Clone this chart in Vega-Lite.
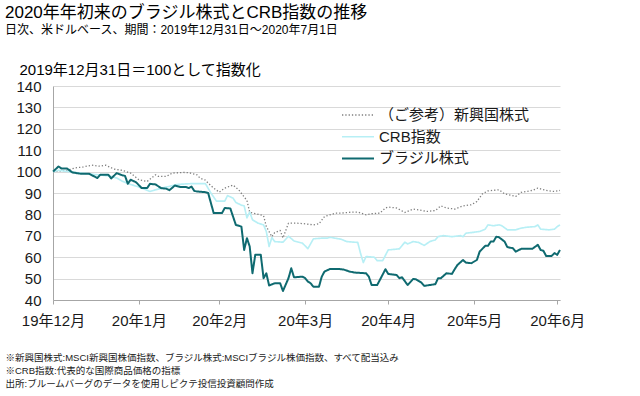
{
"$schema":"https://vega.github.io/schema/vega-lite/v6.json",
"autosize":{"type":"none"},
"width":507,"height":214,
"padding":{"left":53,"top":86,"right":80,"bottom":96},
"background":"#ffffff",
"config":{"view":{"stroke":null},"font":"Liberation Sans, Noto Sans CJK JP"},
"title":{"text":"2020年年初来のブラジル株式とCRB指数の推移","subtitle":"日次、米ドルベース、期間：2019年12月31日～2020年7月1日","anchor":"start","frame":"group","dx":-48,"offset":25,"fontSize":17,"fontWeight":"normal","color":"#000000","subtitleFontSize":12,"subtitleColor":"#000000","subtitlePadding":3,"font":"Liberation Sans, Noto Sans CJK JP","subtitleFont":"Liberation Sans, Noto Sans CJK JP"},
"data":{"values":[
{"date":"2019-12-31","series":"（ご参考）新興国株式","value":100},
{"date":"2020-01-05","series":"（ご参考）新興国株式","value":100.6},
{"date":"2020-01-08","series":"（ご参考）新興国株式","value":101.7},
{"date":"2020-01-11","series":"（ご参考）新興国株式","value":102.2},
{"date":"2020-01-14","series":"（ご参考）新興国株式","value":103},
{"date":"2020-01-17","series":"（ご参考）新興国株式","value":102.5},
{"date":"2020-01-19","series":"（ご参考）新興国株式","value":103},
{"date":"2020-01-22","series":"（ご参考）新興国株式","value":101.2},
{"date":"2020-01-25","series":"（ご参考）新興国株式","value":100.6},
{"date":"2020-01-28","series":"（ご参考）新興国株式","value":99.3},
{"date":"2020-01-31","series":"（ご参考）新興国株式","value":96.2},
{"date":"2020-02-03","series":"（ご参考）新興国株式","value":95.4},
{"date":"2020-02-06","series":"（ご参考）新興国株式","value":98.5},
{"date":"2020-02-07","series":"（ご参考）新興国株式","value":97.8},
{"date":"2020-02-10","series":"（ご参考）新興国株式","value":97.8},
{"date":"2020-02-12","series":"（ご参考）新興国株式","value":99.3},
{"date":"2020-02-16","series":"（ご参考）新興国株式","value":99.6},
{"date":"2020-02-18","series":"（ご参考）新興国株式","value":99.5},
{"date":"2020-02-21","series":"（ご参考）新興国株式","value":98.5},
{"date":"2020-02-22","series":"（ご参考）新興国株式","value":97},
{"date":"2020-02-24","series":"（ご参考）新興国株式","value":96},
{"date":"2020-02-25","series":"（ご参考）新興国株式","value":94.6},
{"date":"2020-02-27","series":"（ご参考）新興国株式","value":92.3},
{"date":"2020-02-29","series":"（ご参考）新興国株式","value":90.4},
{"date":"2020-03-02","series":"（ご参考）新興国株式","value":92.3},
{"date":"2020-03-05","series":"（ご参考）新興国株式","value":93.7},
{"date":"2020-03-07","series":"（ご参考）新興国株式","value":91.5},
{"date":"2020-03-10","series":"（ご参考）新興国株式","value":86.5},
{"date":"2020-03-11","series":"（ご参考）新興国株式","value":81},
{"date":"2020-03-13","series":"（ご参考）新興国株式","value":80.4},
{"date":"2020-03-16","series":"（ご参考）新興国株式","value":79.4},
{"date":"2020-03-17","series":"（ご参考）新興国株式","value":74.3},
{"date":"2020-03-19","series":"（ご参考）新興国株式","value":69.6},
{"date":"2020-03-20","series":"（ご参考）新興国株式","value":71.5},
{"date":"2020-03-22","series":"（ご参考）新興国株式","value":72.5},
{"date":"2020-03-23","series":"（ご参考）新興国株式","value":69},
{"date":"2020-03-25","series":"（ご参考）新興国株式","value":75.9},
{"date":"2020-03-28","series":"（ご参考）新興国株式","value":75.9},
{"date":"2020-03-31","series":"（ご参考）新興国株式","value":75.6},
{"date":"2020-04-03","series":"（ご参考）新興国株式","value":75.1},
{"date":"2020-04-05","series":"（ご参考）新興国株式","value":75.6},
{"date":"2020-04-07","series":"（ご参考）新興国株式","value":79},
{"date":"2020-04-11","series":"（ご参考）新興国株式","value":80.6},
{"date":"2020-04-13","series":"（ご参考）新興国株式","value":80.6},
{"date":"2020-04-17","series":"（ご参考）新興国株式","value":81.1},
{"date":"2020-04-19","series":"（ご参考）新興国株式","value":81.1},
{"date":"2020-04-22","series":"（ご参考）新興国株式","value":79.8},
{"date":"2020-04-24","series":"（ご参考）新興国株式","value":80.3},
{"date":"2020-04-27","series":"（ご参考）新興国株式","value":80.6},
{"date":"2020-04-29","series":"（ご参考）新興国株式","value":83},
{"date":"2020-04-30","series":"（ご参考）新興国株式","value":83.4},
{"date":"2020-05-03","series":"（ご参考）新興国株式","value":83},
{"date":"2020-05-06","series":"（ご参考）新興国株式","value":80.9},
{"date":"2020-05-09","series":"（ご参考）新興国株式","value":82.5},
{"date":"2020-05-11","series":"（ご参考）新興国株式","value":82.1},
{"date":"2020-05-14","series":"（ご参考）新興国株式","value":81.4},
{"date":"2020-05-17","series":"（ご参考）新興国株式","value":81.8},
{"date":"2020-05-19","series":"（ご参考）新興国株式","value":84},
{"date":"2020-05-21","series":"（ご参考）新興国株式","value":83},
{"date":"2020-05-24","series":"（ご参考）新興国株式","value":82.5},
{"date":"2020-05-27","series":"（ご参考）新興国株式","value":84},
{"date":"2020-05-30","series":"（ご参考）新興国株式","value":84.5},
{"date":"2020-06-01","series":"（ご参考）新興国株式","value":86},
{"date":"2020-06-03","series":"（ご参考）新興国株式","value":89.6},
{"date":"2020-06-05","series":"（ご参考）新興国株式","value":91},
{"date":"2020-06-09","series":"（ご参考）新興国株式","value":91.5},
{"date":"2020-06-11","series":"（ご参考）新興国株式","value":89.6},
{"date":"2020-06-15","series":"（ご参考）新興国株式","value":88.4},
{"date":"2020-06-17","series":"（ご参考）新興国株式","value":90.3},
{"date":"2020-06-21","series":"（ご参考）新興国株式","value":91.2},
{"date":"2020-06-23","series":"（ご参考）新興国株式","value":92.3},
{"date":"2020-06-26","series":"（ご参考）新興国株式","value":91.2},
{"date":"2020-06-29","series":"（ご参考）新興国株式","value":90.7},
{"date":"2020-07-01","series":"（ご参考）新興国株式","value":91.2},
{"date":"2019-12-31","series":"CRB指数","value":100},
{"date":"2020-01-02","series":"CRB指数","value":100.6},
{"date":"2020-01-08","series":"CRB指数","value":99.6},
{"date":"2020-01-14","series":"CRB指数","value":98.8},
{"date":"2020-01-20","series":"CRB指数","value":98},
{"date":"2020-01-23","series":"CRB指数","value":97},
{"date":"2020-01-25","series":"CRB指数","value":95.5},
{"date":"2020-01-28","series":"CRB指数","value":94},
{"date":"2020-01-31","series":"CRB指数","value":92.8},
{"date":"2020-02-04","series":"CRB指数","value":90.7},
{"date":"2020-02-06","series":"CRB指数","value":91.5},
{"date":"2020-02-10","series":"CRB指数","value":92.8},
{"date":"2020-02-14","series":"CRB指数","value":94},
{"date":"2020-02-19","series":"CRB指数","value":94.4},
{"date":"2020-02-24","series":"CRB指数","value":94.4},
{"date":"2020-02-26","series":"CRB指数","value":90},
{"date":"2020-02-28","series":"CRB指数","value":86.2},
{"date":"2020-03-02","series":"CRB指数","value":86.2},
{"date":"2020-03-03","series":"CRB指数","value":88.8},
{"date":"2020-03-05","series":"CRB指数","value":87.6},
{"date":"2020-03-06","series":"CRB指数","value":85.6},
{"date":"2020-03-08","series":"CRB指数","value":84.3},
{"date":"2020-03-09","series":"CRB指数","value":84},
{"date":"2020-03-10","series":"CRB指数","value":78.4},
{"date":"2020-03-11","series":"CRB指数","value":81.1},
{"date":"2020-03-12","series":"CRB指数","value":77.5},
{"date":"2020-03-14","series":"CRB指数","value":75.9},
{"date":"2020-03-16","series":"CRB指数","value":75.1},
{"date":"2020-03-17","series":"CRB指数","value":72},
{"date":"2020-03-18","series":"CRB指数","value":65},
{"date":"2020-03-19","series":"CRB指数","value":69.2},
{"date":"2020-03-20","series":"CRB指数","value":67.3},
{"date":"2020-03-23","series":"CRB指数","value":67},
{"date":"2020-03-25","series":"CRB指数","value":69.8},
{"date":"2020-03-27","series":"CRB指数","value":67.6},
{"date":"2020-03-30","series":"CRB指数","value":66.6},
{"date":"2020-04-01","series":"CRB指数","value":64},
{"date":"2020-04-03","series":"CRB指数","value":68.6},
{"date":"2020-04-06","series":"CRB指数","value":68.9},
{"date":"2020-04-08","series":"CRB指数","value":68.9},
{"date":"2020-04-09","series":"CRB指数","value":69.3},
{"date":"2020-04-13","series":"CRB指数","value":68.4},
{"date":"2020-04-15","series":"CRB指数","value":67.3},
{"date":"2020-04-19","series":"CRB指数","value":66.9},
{"date":"2020-04-20","series":"CRB指数","value":61.8},
{"date":"2020-04-21","series":"CRB指数","value":57.5},
{"date":"2020-04-22","series":"CRB指数","value":60.3},
{"date":"2020-04-25","series":"CRB指数","value":60},
{"date":"2020-04-26","series":"CRB指数","value":58.4},
{"date":"2020-04-28","series":"CRB指数","value":58.4},
{"date":"2020-04-30","series":"CRB指数","value":63.4},
{"date":"2020-05-04","series":"CRB指数","value":63.9},
{"date":"2020-05-06","series":"CRB指数","value":67},
{"date":"2020-05-07","series":"CRB指数","value":66.2},
{"date":"2020-05-09","series":"CRB指数","value":67.3},
{"date":"2020-05-11","series":"CRB指数","value":66.9},
{"date":"2020-05-13","series":"CRB指数","value":65.5},
{"date":"2020-05-15","series":"CRB指数","value":67.3},
{"date":"2020-05-17","series":"CRB指数","value":68.1},
{"date":"2020-05-18","series":"CRB指数","value":69.6},
{"date":"2020-05-20","series":"CRB指数","value":70.1},
{"date":"2020-05-23","series":"CRB指数","value":69.6},
{"date":"2020-05-26","series":"CRB指数","value":70.1},
{"date":"2020-05-27","series":"CRB指数","value":69.6},
{"date":"2020-05-28","series":"CRB指数","value":71.2},
{"date":"2020-05-30","series":"CRB指数","value":71.5},
{"date":"2020-06-02","series":"CRB指数","value":72},
{"date":"2020-06-04","series":"CRB指数","value":73.1},
{"date":"2020-06-05","series":"CRB指数","value":75.1},
{"date":"2020-06-07","series":"CRB指数","value":74.7},
{"date":"2020-06-09","series":"CRB指数","value":75.1},
{"date":"2020-06-10","series":"CRB指数","value":74.7},
{"date":"2020-06-12","series":"CRB指数","value":72.8},
{"date":"2020-06-15","series":"CRB指数","value":72.8},
{"date":"2020-06-17","series":"CRB指数","value":73.6},
{"date":"2020-06-19","series":"CRB指数","value":74},
{"date":"2020-06-22","series":"CRB指数","value":74.3},
{"date":"2020-06-23","series":"CRB指数","value":75.1},
{"date":"2020-06-24","series":"CRB指数","value":73.1},
{"date":"2020-06-27","series":"CRB指数","value":72.8},
{"date":"2020-06-29","series":"CRB指数","value":73.1},
{"date":"2020-06-30","series":"CRB指数","value":74.3},
{"date":"2020-07-01","series":"CRB指数","value":75.1},
{"date":"2019-12-31","series":"ブラジル株式","value":100},
{"date":"2020-01-02","series":"ブラジル株式","value":102.4},
{"date":"2020-01-03","series":"ブラジル株式","value":101.5},
{"date":"2020-01-05","series":"ブラジル株式","value":101.5},
{"date":"2020-01-07","series":"ブラジル株式","value":99.6},
{"date":"2020-01-10","series":"ブラジル株式","value":99},
{"date":"2020-01-13","series":"ブラジル株式","value":99},
{"date":"2020-01-16","series":"ブラジル株式","value":97},
{"date":"2020-01-17","series":"ブラジル株式","value":98.5},
{"date":"2020-01-20","series":"ブラジル株式","value":98.5},
{"date":"2020-01-21","series":"ブラジル株式","value":96.8},
{"date":"2020-01-23","series":"ブラジル株式","value":99.3},
{"date":"2020-01-25","series":"ブラジル株式","value":98.3},
{"date":"2020-01-26","series":"ブラジル株式","value":98},
{"date":"2020-01-27","series":"ブラジル株式","value":94.3},
{"date":"2020-01-28","series":"ブラジル株式","value":96.2},
{"date":"2020-01-30","series":"ブラジル株式","value":95},
{"date":"2020-02-01","series":"ブラジル株式","value":92.3},
{"date":"2020-02-03","series":"ブラジル株式","value":92.3},
{"date":"2020-02-04","series":"ブラジル株式","value":94.3},
{"date":"2020-02-06","series":"ブラジル株式","value":94},
{"date":"2020-02-08","series":"ブラジル株式","value":92.3},
{"date":"2020-02-10","series":"ブラジル株式","value":92},
{"date":"2020-02-11","series":"ブラジル株式","value":91.3},
{"date":"2020-02-13","series":"ブラジル株式","value":93.5},
{"date":"2020-02-15","series":"ブラジル株式","value":92.8},
{"date":"2020-02-17","series":"ブラジル株式","value":92.8},
{"date":"2020-02-18","series":"ブラジル株式","value":92.3},
{"date":"2020-02-19","series":"ブラジル株式","value":93},
{"date":"2020-02-20","series":"ブラジル株式","value":91},
{"date":"2020-02-21","series":"ブラジル株式","value":90.7},
{"date":"2020-02-24","series":"ブラジル株式","value":90.4},
{"date":"2020-02-25","series":"ブラジル株式","value":90},
{"date":"2020-02-27","series":"ブラジル株式","value":80.6},
{"date":"2020-03-01","series":"ブラジル株式","value":80.6},
{"date":"2020-03-02","series":"ブラジル株式","value":83},
{"date":"2020-03-04","series":"ブラジル株式","value":82.8},
{"date":"2020-03-06","series":"ブラジル株式","value":75.1},
{"date":"2020-03-08","series":"ブラジル株式","value":74.3},
{"date":"2020-03-09","series":"ブラジル株式","value":63.4},
{"date":"2020-03-10","series":"ブラジル株式","value":68.9},
{"date":"2020-03-11","series":"ブラジル株式","value":65},
{"date":"2020-03-12","series":"ブラジル株式","value":52.5},
{"date":"2020-03-13","series":"ブラジル株式","value":61.1},
{"date":"2020-03-15","series":"ブラジル株式","value":61.1},
{"date":"2020-03-16","series":"ブラジル株式","value":50.2},
{"date":"2020-03-17","series":"ブラジル株式","value":52.5},
{"date":"2020-03-18","series":"ブラジル株式","value":46.8},
{"date":"2020-03-20","series":"ブラジル株式","value":47.8},
{"date":"2020-03-22","series":"ブラジル株式","value":47.8},
{"date":"2020-03-23","series":"ブラジル株式","value":44.2},
{"date":"2020-03-25","series":"ブラジル株式","value":50.2},
{"date":"2020-03-26","series":"ブラジル株式","value":54.8},
{"date":"2020-03-27","series":"ブラジル株式","value":50.6},
{"date":"2020-03-30","series":"ブラジル株式","value":50.9},
{"date":"2020-03-31","series":"ブラジル株式","value":50.2},
{"date":"2020-04-01","series":"ブラジル株式","value":48.6},
{"date":"2020-04-02","series":"ブラジル株式","value":47.8},
{"date":"2020-04-03","series":"ブラジル株式","value":46.2},
{"date":"2020-04-05","series":"ブラジル株式","value":46.2},
{"date":"2020-04-06","series":"ブラジル株式","value":50.9},
{"date":"2020-04-07","series":"ブラジル株式","value":53.3},
{"date":"2020-04-09","series":"ブラジル株式","value":54.5},
{"date":"2020-04-12","series":"ブラジル株式","value":54.5},
{"date":"2020-04-14","series":"ブラジル株式","value":54.2},
{"date":"2020-04-16","series":"ブラジル株式","value":53.3},
{"date":"2020-04-18","series":"ブラジル株式","value":52.8},
{"date":"2020-04-22","series":"ブラジル株式","value":52.5},
{"date":"2020-04-23","series":"ブラジル株式","value":50.9},
{"date":"2020-04-24","series":"ブラジル株式","value":47},
{"date":"2020-04-26","series":"ブラジル株式","value":47},
{"date":"2020-04-27","series":"ブラジル株式","value":49.4},
{"date":"2020-04-29","series":"ブラジル株式","value":54.4},
{"date":"2020-04-30","series":"ブラジル株式","value":52.2},
{"date":"2020-05-03","series":"ブラジル株式","value":51.7},
{"date":"2020-05-04","series":"ブラジル株式","value":50.2},
{"date":"2020-05-05","series":"ブラジル株式","value":50.6},
{"date":"2020-05-07","series":"ブラジル株式","value":47},
{"date":"2020-05-09","series":"ブラジル株式","value":49.8},
{"date":"2020-05-10","series":"ブラジル株式","value":49.7},
{"date":"2020-05-12","series":"ブラジル株式","value":48.1},
{"date":"2020-05-13","series":"ブラジル株式","value":46.6},
{"date":"2020-05-15","series":"ブラジル株式","value":47},
{"date":"2020-05-17","series":"ブラジル株式","value":47.4},
{"date":"2020-05-18","series":"ブラジル株式","value":50.2},
{"date":"2020-05-19","series":"ブラジル株式","value":50.2},
{"date":"2020-05-21","series":"ブラジル株式","value":52.5},
{"date":"2020-05-23","series":"ブラジル株式","value":52.2},
{"date":"2020-05-24","series":"ブラジル株式","value":54.4},
{"date":"2020-05-25","series":"ブラジル株式","value":56.4},
{"date":"2020-05-27","series":"ブラジル株式","value":58.7},
{"date":"2020-05-28","series":"ブラジル株式","value":57.5},
{"date":"2020-05-30","series":"ブラジル株式","value":57.2},
{"date":"2020-06-01","series":"ブラジル株式","value":58.7},
{"date":"2020-06-02","series":"ブラジル株式","value":62.6},
{"date":"2020-06-04","series":"ブラジル株式","value":65.3},
{"date":"2020-06-05","series":"ブラジル株式","value":65.3},
{"date":"2020-06-06","series":"ブラジル株式","value":67.3},
{"date":"2020-06-07","series":"ブラジル株式","value":67.3},
{"date":"2020-06-08","series":"ブラジル株式","value":69.6},
{"date":"2020-06-09","series":"ブラジル株式","value":69.3},
{"date":"2020-06-11","series":"ブラジル株式","value":67.3},
{"date":"2020-06-12","series":"ブラジル株式","value":64.7},
{"date":"2020-06-14","series":"ブラジル株式","value":64.2},
{"date":"2020-06-15","series":"ブラジル株式","value":62.6},
{"date":"2020-06-17","series":"ブラジル株式","value":63.9},
{"date":"2020-06-19","series":"ブラジル株式","value":63.9},
{"date":"2020-06-21","series":"ブラジル株式","value":63.9},
{"date":"2020-06-23","series":"ブラジル株式","value":65.8},
{"date":"2020-06-24","series":"ブラジル株式","value":63.4},
{"date":"2020-06-25","series":"ブラジル株式","value":63},
{"date":"2020-06-26","series":"ブラジル株式","value":60.6},
{"date":"2020-06-28","series":"ブラジル株式","value":60.6},
{"date":"2020-06-29","series":"ブラジル株式","value":61.9},
{"date":"2020-06-30","series":"ブラジル株式","value":61.1},
{"date":"2020-07-01","series":"ブラジル株式","value":63.4}
]},
"mark":{"type":"line","strokeJoin":"round","strokeCap":"butt"},
"encoding":{
"x":{"field":"date","type":"temporal",
"scale":{"type":"utc","domain":[{"year":2019,"month":12,"date":31,"utc":true},{"year":2020,"month":7,"date":1,"utc":true}]},
"axis":{"values":[{"year":2019,"month":12,"date":31,"utc":true},{"year":2020,"month":1,"date":31,"utc":true},{"year":2020,"month":2,"date":29,"utc":true},{"year":2020,"month":3,"date":31,"utc":true},{"year":2020,"month":4,"date":30,"utc":true},{"year":2020,"month":5,"date":31,"utc":true},{"year":2020,"month":6,"date":30,"utc":true}],
"labelExpr":"utcFormat(datum.value, '%y') + '年' + (utcmonth(datum.value) + 1) + '月'",
"grid":false,"domainColor":"#a6a6a6","tickColor":"#a6a6a6","tickSize":4,"labelPadding":9,"labelFontSize":15,"labelColor":"#1a1a1a","labelFont":"Liberation Sans, Noto Sans CJK JP","labelOverlap":false,"labelFlush":false,
"title":["※新興国株式:MSCI新興国株価指数、ブラジル株式:MSCIブラジル株価指数、すべて配当込み","※CRB指数:代表的な国際商品価格の指標","出所:ブルームバーグのデータを使用しピクテ投信投資顧問作成"],
"titleAlign":"left","titleAnchor":"start","titleX":-48,"titleY":60,"titleBaseline":"alphabetic","titleFontSize":9.5,"titleLineHeight":13,"titleFontWeight":"normal","titleColor":"#1a1a1a","titleFont":"Liberation Sans, Noto Sans CJK JP"}},
"y":{"field":"value","type":"quantitative",
"scale":{"domain":[40,140],"nice":false,"zero":false},
"axis":{"values":[40,50,60,70,80,90,100,110,120,130,140],"grid":true,"gridColor":"#d9d9d9","ticks":false,"domainColor":"#a6a6a6","labelPadding":12,"labelFontSize":15,"labelColor":"#1a1a1a","labelFont":"Liberation Sans, Noto Sans CJK JP",
"title":"2019年12月31日＝100として指数化","titleAngle":0,"titleAlign":"left","titleBaseline":"alphabetic","titleX":-34,"titleY":-12,"titleFontSize":15,"titleFontWeight":"normal","titleColor":"#000000","titleFont":"Liberation Sans, Noto Sans CJK JP"}},
"color":{"field":"series","type":"nominal",
"scale":{"domain":["（ご参考）新興国株式","CRB指数","ブラジル株式"],"range":["#7f7f7f","#b7eff5","#0f6a70"]},
"legend":{"orient":"none","legendX":288,"legendY":19,"title":null,"symbolType":"stroke","symbolSize":1024,"clipHeight":20,"rowPadding":1.7,"labelOffset":4,"padding":0,"labelFontSize":15,"labelColor":"#1a1a1a","labelFont":"Liberation Sans, Noto Sans CJK JP","labelLimit":300}},
"strokeWidth":{"field":"series","type":"nominal","scale":{"domain":["（ご参考）新興国株式","CRB指数","ブラジル株式"],"range":[1.3,2,3.6]},"legend":null},
"strokeDash":{"field":"series","type":"nominal","scale":{"domain":["（ご参考）新興国株式","CRB指数","ブラジル株式"],"range":[[1.3,2],[1,0],[1,0]]},"legend":null}
}
}
